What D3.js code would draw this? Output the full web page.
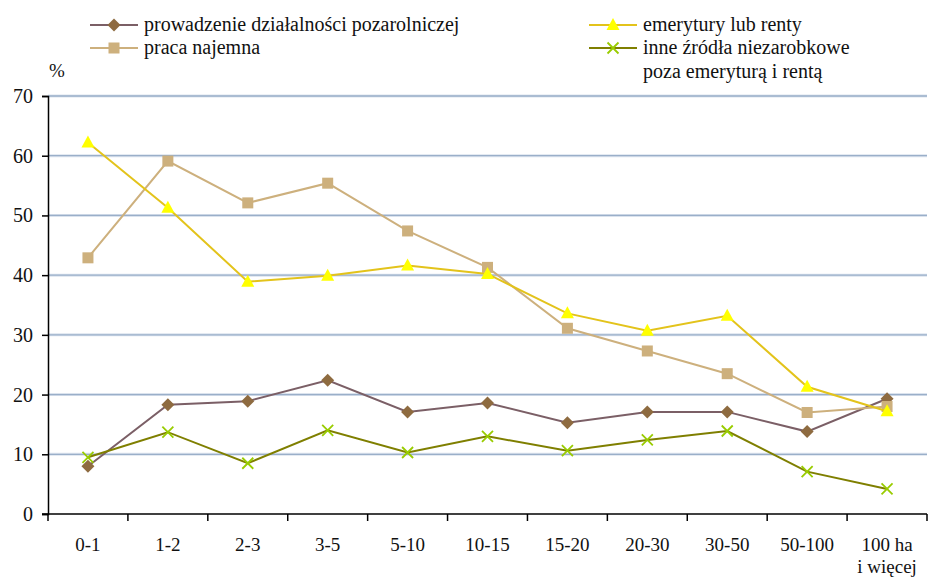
<!DOCTYPE html>
<html>
<head>
<meta charset="utf-8">
<script src="https://cdn.jsdelivr.net/npm/d3@7"></script>
</head>
<body style="margin:0">
<svg id="chart" width="928" height="581" font-family="Liberation Serif"></svg>
<script>
// Farm size groups (ha)
const categories = ["0-1", "1-2", "2-3", "3-5", "5-10", "10-15", "15-20", "20-30", "30-50", "50-100", "100 ha\ni więcej"];

// Share of households with each income source, %
const prowadzenie = [8.0, 18.3, 18.9, 22.4, 17.1, 18.6, 15.3, 17.1, 17.1, 13.8, 19.3];
const pracaNajemna = [42.9, 59.1, 52.1, 55.4, 47.4, 41.3, 31.1, 27.3, 23.5, 17.0, 18.0];
const emerytury = [62.2, 51.3, 38.9, 39.9, 41.6, 40.2, 33.6, 30.7, 33.2, 21.3, 17.2];
const inneZrodla = [9.5, 13.7, 8.5, 14.0, 10.3, 13.0, 10.6, 12.4, 13.9, 7.1, 4.2];

const yTicks = [0, 10, 20, 30, 40, 50, 60, 70];

const series = [
  { name: "prowadzenie działalności pozarolniczej", values: prowadzenie, line: "#7b5f66", fill: "#8e6b40", marker: "diamond" },
  { name: "praca najemna", values: pracaNajemna, line: "#cdb07d", fill: "#cdb07d", marker: "square" },
  { name: "emerytury lub renty", values: emerytury, line: "#e3c31b", fill: "#ffff00", marker: "triangle" },
  { name: "inne źródła niezarobkowe\npoza emeryturą i rentą", values: inneZrodla, line: "#7f7f00", fill: "#99cc00", marker: "cross" }
];

const svg = d3.select("#chart");
const margin = { left: 48, right: 1, top: 96, bottom: 67 };
const W = 928, H = 581;

const x = d3.scaleBand().domain(categories).range([margin.left, W - margin.right]).padding(0);
const y = d3.scaleLinear().domain([0, 70]).range([H - margin.bottom, margin.top]);
const cx = c => x(c) + x.bandwidth() / 2;

// horizontal gridlines: pale halo under a thin steel-blue rule
svg.append("g")
  .selectAll("line")
  .data(yTicks.filter(t => t > 0))
  .join("line")
  .attr("x1", margin.left).attr("x2", W - margin.right)
  .attr("y1", d => y(d)).attr("y2", d => y(d))
  .attr("stroke", "#dbe3ee").attr("stroke-width", 3);
svg.append("g")
  .selectAll("line")
  .data(yTicks.filter(t => t > 0))
  .join("line")
  .attr("x1", margin.left).attr("x2", W - margin.right)
  .attr("y1", d => y(d)).attr("y2", d => y(d))
  .attr("stroke", "#9aafc9").attr("stroke-width", 1.3);

// y axis (tick labels drawn separately)
const yAxis = svg.append("g")
  .attr("transform", `translate(${margin.left},0)`)
  .call(d3.axisLeft(y).tickValues(yTicks).tickSize(6).tickFormat(""));
yAxis.select(".domain").attr("stroke", "#000").attr("stroke-width", 1.5);
yAxis.selectAll(".tick line").attr("stroke", "#000").attr("stroke-width", 1.5);
svg.selectAll("text.ylab")
  .data(yTicks)
  .join("text")
  .attr("class", "ylab")
  .attr("x", margin.left - 15).attr("y", d => y(d) + 7)
  .attr("text-anchor", "end")
  .style("font-family", '"Liberation Serif"')
  .attr("font-size", 20).attr("fill", "#111")
  .text(d => d);

// x axis
const xAxis = svg.append("g")
  .attr("transform", `translate(0,${y(0)})`)
  .call(d3.axisBottom(x).tickSize(0).tickFormat(""));
xAxis.select(".domain").attr("stroke", "#000").attr("stroke-width", 1.5)
  .attr("d", `M${margin.left - 6},0H${W - margin.right}`);
// boundary ticks between groups
svg.append("g")
  .selectAll("line")
  .data(categories.map(c => x(c)).concat([x(categories[categories.length - 1]) + x.bandwidth()]))
  .join("line")
  .attr("x1", d => d).attr("x2", d => d)
  .attr("y1", y(0)).attr("y2", y(0) + 7)
  .attr("stroke", "#000").attr("stroke-width", 1.5);

// category labels
categories.forEach(c => {
  const t = svg.append("text").attr("x", cx(c)).attr("y", y(0) + 37)
    .attr("text-anchor", "middle").attr("fill", "#111")
    .style("font-family", '"Liberation Serif"').attr("font-size", 19);
  c.split("\n").forEach((part, i) => {
    t.append("tspan").attr("x", cx(c)).attr("dy", i === 0 ? 0 : 22).text(part);
  });
});

// unit label
svg.append("text").attr("x", 57).attr("y", 77).attr("text-anchor", "middle")
  .style("font-family", '"Liberation Serif"').attr("font-size", 19).attr("fill", "#111").text("%");

// marker drawing
function drawMarker(g, s, px, py) {
  if (s.marker === "diamond") {
    g.append("path").attr("d", `M${px},${py - 6.5}L${px + 6.5},${py}L${px},${py + 6.5}L${px - 6.5},${py}Z`)
      .attr("fill", s.fill);
  } else if (s.marker === "square") {
    g.append("rect").attr("x", px - 5.5).attr("y", py - 5.5).attr("width", 11).attr("height", 11)
      .attr("fill", s.fill);
  } else if (s.marker === "triangle") {
    g.append("path").attr("d", `M${px},${py - 7}L${px + 6.5},${py + 5}L${px - 6.5},${py + 5}Z`)
      .attr("fill", s.fill);
  } else if (s.marker === "cross") {
    g.append("path").attr("d", `M${px - 5.5},${py - 5.5}L${px + 5.5},${py + 5.5}M${px - 5.5},${py + 5.5}L${px + 5.5},${py - 5.5}`)
      .attr("stroke", s.fill).attr("stroke-width", 1.8).attr("fill", "none");
  }
}

// series lines + markers
const line = d3.line().x((d, i) => cx(categories[i])).y(d => y(d));
series.forEach(s => {
  const g = svg.append("g");
  g.append("path").datum(s.values).attr("d", line)
    .attr("fill", "none").attr("stroke", s.line).attr("stroke-width", 2);
  s.values.forEach((v, i) => drawMarker(g, s, cx(categories[i]), y(v)));
});

// legend
const legendPos = [
  { x: 90, y: 25 }, { x: 90, y: 48 }, { x: 589, y: 25 }, { x: 589, y: 48 }
];
series.forEach((s, i) => {
  const p = legendPos[i];
  const g = svg.append("g");
  g.append("line").attr("x1", p.x).attr("x2", p.x + 48).attr("y1", p.y).attr("y2", p.y)
    .attr("stroke", s.line).attr("stroke-width", 2);
  drawMarker(g, s, p.x + 24, p.y);
  s.name.split("\n").forEach((part, k) => {
    svg.append("text").attr("fill", "#111").attr("x", p.x + 54).attr("y", p.y + 6 + k * 23.5)
      .style("font-family", '"Liberation Serif"').attr("font-size", 20)
      .text(part);
  });
});
</script>
</body>
</html>
